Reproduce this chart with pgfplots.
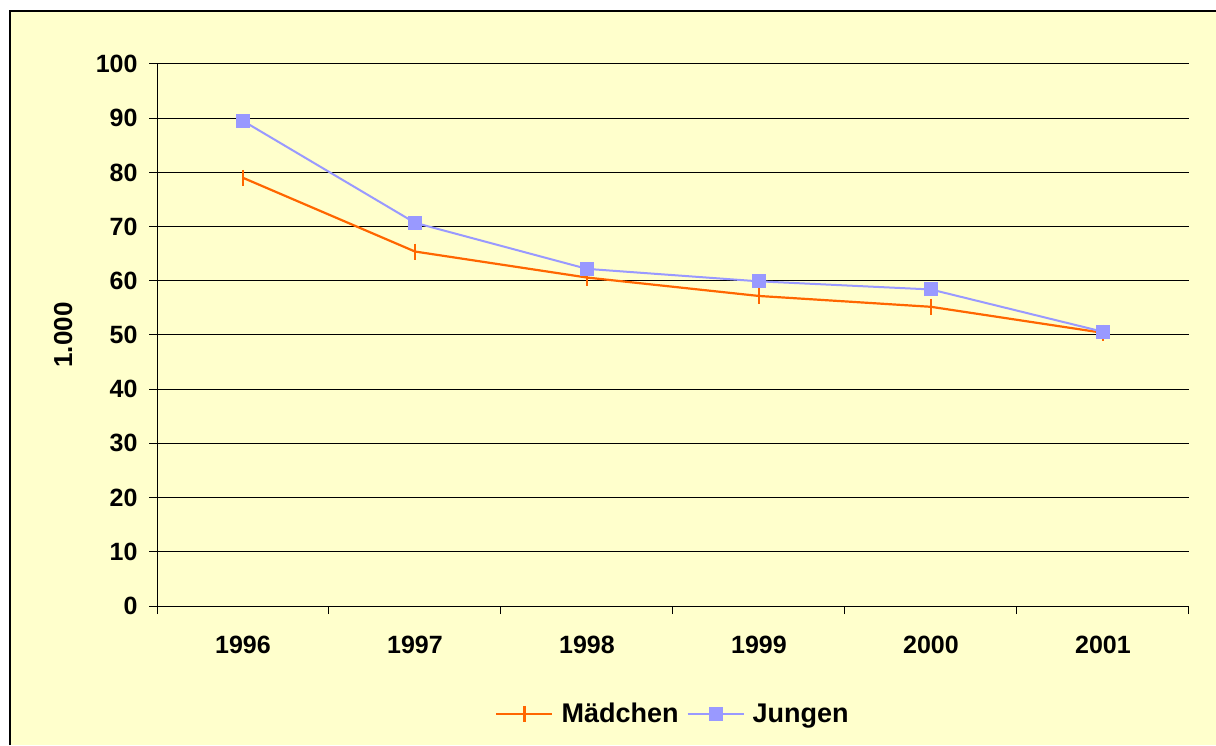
\documentclass[border=0pt]{standalone}
\usepackage{pgfplots}
\pgfplotsset{compat=1.18}
\usepackage{fontspec}
\setmainfont{Liberation Sans}
\definecolor{bgyellow}{HTML}{FFFFCC}
\definecolor{morange}{HTML}{FF6600}
\definecolor{jblue}{HTML}{9999FF}
\begin{document}
\begin{tikzpicture}[x=1pt,y=1pt]
\useasboundingbox (0,0) rectangle (1216,745);
\fill[white] (0,0) rectangle (1216,745);
\fill[bgyellow] (10,0) rectangle (1216,734);
\draw[black,line width=1.2pt] (10,0) -- (10,734) -- (1216,734);
\begin{axis}[
  at={(157pt,139pt)}, anchor=south west,
  scale only axis, width=1032pt, height=542pt,
  xmin=-0.5, xmax=5.5, ymin=0, ymax=100,
  axis x line=bottom, axis y line=left,
  axis line style={-, black, line width=1pt},
  xtick={-0.5,0.5,1.5,2.5,3.5,4.5,5.5},
  xticklabels={},
  extra x ticks={0,1,2,3,4,5},
  extra x tick labels={1996,1997,1998,1999,2000,2001},
  extra x tick style={major tick length=0pt, xticklabel style={yshift=-27pt}},
  ytick={0,10,...,100},
  ymajorgrids, grid style={black, line width=1pt},
  tick align=outside,
  major tick length=8pt,
  tick style={black, line width=1pt},
  /pgf/number format/assume math mode=true,
  ticklabel style={font=\fontsize{25}{28}\selectfont\bfseries},
  yticklabel style={xshift=-8pt},
  ylabel={1.000},
  ylabel style={font=\fontsize{26}{29}\selectfont\bfseries, at={(axis description cs:-0.091,0.5)}, anchor=center},
  legend columns=2,
  legend style={at={(axis description cs:0.5,-0.199)}, anchor=center, draw=none, fill=none,
    font=\fontsize{27}{30}\selectfont\bfseries, column sep=6pt},
  legend image code/.code={\draw[mark repeat=2,mark phase=2] plot coordinates {(0pt,0pt) (28pt,0pt) (56pt,0pt)};},
]
\addplot[morange, line width=2.2pt, mark=|, mark size=8pt, mark options={line width=2.2pt}]
  coordinates {(0,79.0) (1,65.4) (2,60.6) (3,57.2) (4,55.2) (5,50.4)};
\addlegendentry{Mädchen}
\addplot[jblue, line width=2pt, mark=square*, mark size=6pt, mark options={solid}]
  coordinates {(0,89.5) (1,70.7) (2,62.2) (3,59.9) (4,58.4) (5,50.6)};
\addlegendentry{Jungen}
\end{axis}
\end{tikzpicture}
\end{document}
